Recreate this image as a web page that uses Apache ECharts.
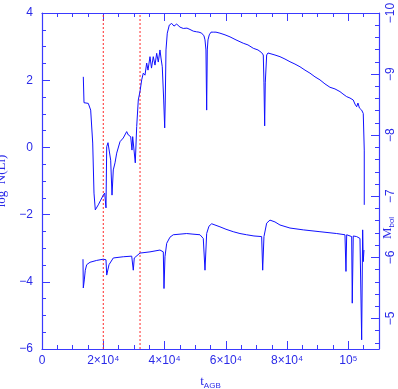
<!DOCTYPE html>
<html>
<head>
<meta charset="utf-8">
<script src="https://cdn.jsdelivr.net/npm/echarts@6/dist/echarts.min.js"></script>
<style>
  html, body { margin: 0; padding: 0; background: #fff; }
  #chart { width: 398px; height: 389px; }
</style>
</head>
<body>
<div id="chart"></div>
<script>
'use strict';
// t_AGB (yr) and log N(Li) along the upper curve
var tLi = [13480, 13710, 15110, 15890, 16550, 16970, 17400, 17850, 18370, 19160, 20010, 20460, 20890,
    21120, 21540, 21970, 22420, 22850, 23270, 23830, 24380, 25460, 26530, 27640, 28170, 28950, 29370,
    29600, 30120, 30450, 30910, 31430, 31980, 32540, 33060, 33620, 34170, 34600, 35250, 35740, 36320,
    36880, 37430, 37960, 38510, 38840, 39260, 39720, 40050, 40240, 40470, 40890, 41550, 42330, 43080,
    43960, 45040, 46120, 47320, 48300, 49380, 50490, 51240, 52120, 52870, 53200, 53520, 53750, 53950,
    54180, 54600, 55160, 55910, 56790, 58090, 59730, 61360, 63320, 65700, 67230, 68960, 70500, 71700,
    72230, 72450, 72680, 72880, 73330, 73760, 74410, 76040, 77680, 79310, 80940, 82570, 84200, 85840,
    87470, 89100, 90730, 92360, 93990, 95630, 97260, 98240, 99450, 100520, 101600, 102150, 102710,
    103130, 103620, 104340, 104860, 105190, 105190];
var logLi = [2.10, 1.33, 1.31, 1.11, 0.13, -1.36, -1.86, -1.88, -1.71, -1.57, -1.42, -1.36, -1.80,
    0.02, 0.14, 0.12, -0.38, -1.42, -0.67, -0.46, -0.17, 0.17, 0.28, 0.47, 0.37, 0.32, -0.08,
    0.32, 0.32, -0.46, 0.62, 1.41, 1.66, 2.01, 2.21, 2.15, 2.51, 2.30, 2.70, 2.36, 2.70,
    2.45, 2.80, 2.54, 2.90, 2.66, 2.40, 1.41, 0.58, 1.41, 2.90, 3.40, 3.64, 3.69, 3.61,
    3.67, 3.58, 3.54, 3.55, 3.51, 3.46, 3.44, 3.43, 3.40, 3.32, 3.20, 2.90, 1.11, 2.90,
    3.20, 3.35, 3.43, 3.43, 3.43, 3.40, 3.35, 3.29, 3.20, 3.10, 3.05, 2.95, 2.90, 2.82,
    2.75, 1.92, 0.64, 1.92, 2.75, 2.81, 2.80, 2.75, 2.70, 2.63, 2.55, 2.48, 2.40, 2.30,
    2.21, 2.10, 2.01, 1.89, 1.79, 1.74, 1.66, 1.59, 1.51, 1.47, 1.41, 1.29, 1.21,
    1.32, 1.17, 1.11, 1.01, -0.08, -1.71];

// t_AGB (yr) and M_bol along the lower curve
var tBol = [13380, 13480, 13810, 14130, 14590, 15670, 17850, 20010, 20890, 21120, 21440, 21870,
    23270, 26530, 29280, 29800, 30120, 31980, 35250, 38510, 39590, 39820, 40140, 40700, 41770,
    42850, 45040, 47230, 49280, 51570, 52640, 53200, 53750, 54500, 55390, 56460, 58090, 60050,
    62430, 64620, 66800, 69190, 71700, 72030, 72450, 73330, 74410, 76040, 77680, 80940, 85280,
    90730, 96180, 98890, 99220, 99450, 101080, 101270, 101600, 102710, 103790, 104340, 104670,
    104860, 105090];
var mbol = [-5.97, -5.50, -5.63, -5.79, -5.88, -5.92, -5.95, -5.97, -5.96, -5.71, -5.68, -5.88,
    -5.99, -6.01, -6.02, -5.79, -5.99, -6.07, -6.09, -6.12, -6.09, -5.49, -6.01, -6.23, -6.33,
    -6.37, -6.38, -6.39, -6.38, -6.37, -6.31, -5.79, -6.39, -6.51, -6.55, -6.53, -6.50, -6.46,
    -6.42, -6.39, -6.37, -6.35, -6.34, -5.79, -6.34, -6.56, -6.61, -6.58, -6.53, -6.48, -6.45,
    -6.42, -6.39, -6.37, -5.77, -6.37, -6.34, -5.25, -6.35, -6.34, -6.31, -4.65, -6.45,
    -5.93, -6.12];

var markTimes = [20000, 32000];
var xTickLabels = {0: '0', 20000: '2×10⁴', 40000: '4×10⁴', 60000: '6×10⁴', 80000: '8×10⁴', 100000: '10⁵'};

var axisBlue = '#3a3aff';
var textBlue = '#2a2ae8';
var lineBlue = '#1010ff';

function pairs(xs, ys) {
    var out = [];
    for (var i = 0; i < xs.length; i++) out.push([xs[i], ys[i]]);
    return out;
}
function minus(v) { return String(v).replace('-', '−'); }

function ticks(split) {
    return {
        axisLine: {show: true, onZero: false, lineStyle: {color: axisBlue, width: 1.2}},
        axisTick: {show: true, inside: true, length: 8, lineStyle: {color: axisBlue}},
        minorTick: {show: true, splitNumber: split, length: 4, lineStyle: {color: axisBlue}},
        splitLine: {show: false}
    };
}

var myChart = echarts.init(document.getElementById('chart'), null, {renderer: 'canvas'});

// red dotted verticals as tiny two-point series
var markSeries = markTimes.map(function (t) {
    return {
        type: 'line', xAxisIndex: 0, yAxisIndex: 0,
        data: [[t, -6], [t, 4]],
        showSymbol: false, symbol: 'none', silent: true,
        lineStyle: {color: '#ff2a2a', type: [2, 2], width: 1},
        z: 2
    };
});

var option = {
    animation: false,
    backgroundColor: '#fff',
    grid: {left: 42, right: 19, top: 13, bottom: 40, outerBoundsMode: 'none'},
    xAxis: [
        Object.assign({
            type: 'value', min: 0, max: 110000, interval: 20000,
            position: 'bottom',
            name: 't{s|AGB}', nameLocation: 'middle', nameGap: 25,
            nameTextStyle: {
                color: textBlue, fontFamily: 'Liberation Serif', fontSize: 13,
                rich: {s: {fontSize: 8, color: textBlue, fontFamily: 'Liberation Sans', padding: [8, 0, 0, 0]}}
            },
            axisLabel: {
                color: textBlue, fontFamily: 'Liberation Sans', fontSize: 12, margin: 6,
                showMaxLabel: false,
                formatter: function (v) { return xTickLabels[v] !== undefined ? xTickLabels[v] : ''; }
            }
        }, ticks(4)),
        Object.assign({
            type: 'value', min: 0, max: 110000, interval: 20000,
            position: 'top',
            axisLabel: {show: false}
        }, ticks(4))
    ],
    yAxis: [
        Object.assign({
            type: 'value', min: -6, max: 4, interval: 2,
            position: 'left',
            name: 'log  N(Li)', nameLocation: 'middle', nameGap: 26,
            nameTextStyle: {color: textBlue, fontFamily: 'Liberation Serif', fontSize: 13},
            axisLabel: {
                color: textBlue, fontFamily: 'Liberation Sans', fontSize: 12, margin: 9,
                formatter: function (v) { return minus(v); }
            }
        }, ticks(4)),
        Object.assign({
            type: 'value', min: -10, max: -4.5, interval: 1, inverse: true,
            position: 'right',
            axisLabel: {
                color: textBlue, fontFamily: 'Liberation Sans', fontSize: 12, margin: 6, rotate: 90,
                formatter: function (v) { return Number.isInteger(v) ? minus(v) : ''; }
            }
        }, ticks(5))
    ],
    graphic: [{
        type: 'text',
        x: 388, y: 228,
        rotation: Math.PI / 2,
        style: {
            text: 'M{s|bol}',
            fill: textBlue,
            font: '13px "Liberation Serif"',
            align: 'center', verticalAlign: 'middle',
            rich: {s: {fontSize: 8, fill: textBlue, fontFamily: 'Liberation Sans', padding: [8, 0, 0, 0]}}
        }
    }],
    series: markSeries.concat([
        {
            name: 'log N(Li)', type: 'line', xAxisIndex: 0, yAxisIndex: 0,
            data: pairs(tLi, logLi),
            showSymbol: false, symbol: 'none',
            lineStyle: {color: lineBlue, width: 1},
            z: 3
        },
        {
            name: 'Mbol', type: 'line', xAxisIndex: 0, yAxisIndex: 1,
            data: pairs(tBol, mbol),
            showSymbol: false, symbol: 'none',
            lineStyle: {color: lineBlue, width: 1},
            z: 3
        }
    ])
};
myChart.setOption(option);
</script>
</body>
</html>
